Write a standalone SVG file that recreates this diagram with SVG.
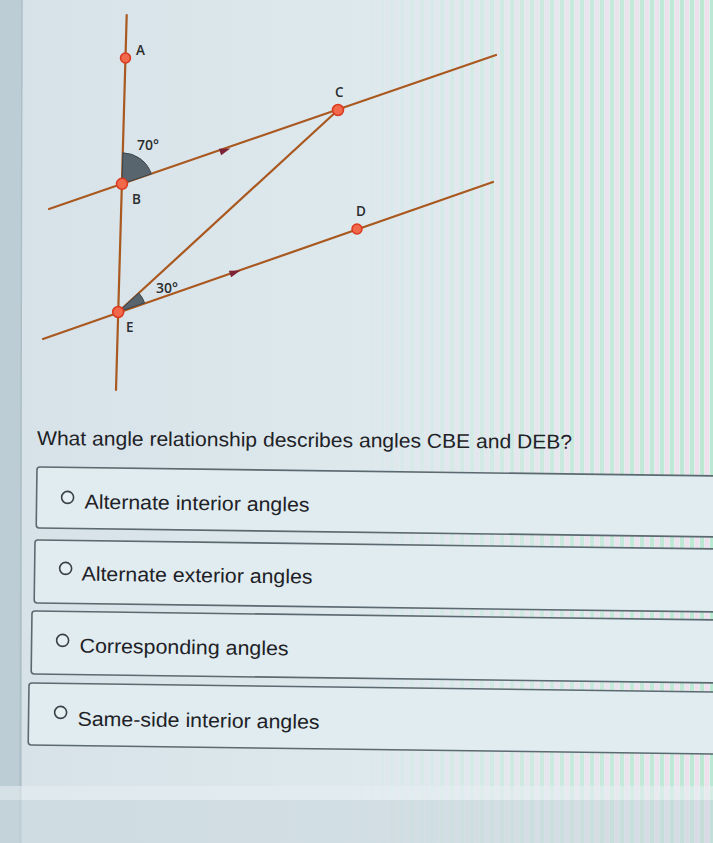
<svg xmlns="http://www.w3.org/2000/svg" width="713" height="843" viewBox="0 0 713 843">
  <defs>
    <style>
      .ln { stroke: #a9581f; stroke-width: 2.2; fill: none; stroke-linecap: round; }
      .pt { fill: #f2684a; stroke: #d9391f; stroke-width: 1.5; }
      .wedge { fill: #58656e; stroke: #3a454c; stroke-width: 1; }
      .arr { fill: #7e2236; }
      .lbl { font-family: "Open Sans", "Liberation Sans", sans-serif; font-size: 13.5px; font-weight: 600; fill: #2b2d2f; }
      .deg { font-family: "Open Sans", "Liberation Sans", sans-serif; font-size: 14px; font-weight: 600; fill: #2b2d2f; }
      .q { font-family: "Liberation Sans", Arial, sans-serif; font-size: 20px; fill: #1e2226; }
      .box { fill: #e0ecf0; stroke: #5b6970; stroke-width: 1.6; }
      .radio { fill: #e6eff2; stroke: #3a4248; stroke-width: 1.6; }
    </style>
    <linearGradient id="bg" x1="0" y1="0" x2="1" y2="0">
      <stop offset="0" stop-color="#d6e2e8"/>
      <stop offset="0.6" stop-color="#dfeaee"/>
      <stop offset="1" stop-color="#e2efee"/>
    </linearGradient>
    <pattern id="stripes" width="10" height="10" patternUnits="userSpaceOnUse">
      <rect x="0" y="0" width="4" height="10" fill="#b6e6cf"/>
      <rect x="5" y="0" width="4" height="10" fill="#f1dcec"/>
    </pattern>
    <linearGradient id="fade" x1="0" y1="0" x2="1" y2="0">
      <stop offset="0" stop-color="#fff" stop-opacity="0"/>
      <stop offset="0.5" stop-color="#fff" stop-opacity="0"/>
      <stop offset="1" stop-color="#fff" stop-opacity="0.9"/>
    </linearGradient>
    <mask id="m">
      <rect x="0" y="0" width="713" height="843" fill="url(#fade)"/>
    </mask>
  </defs>

  <!-- background -->
  <rect x="0" y="0" width="713" height="843" fill="url(#bg)"/>
  <rect x="0" y="0" width="713" height="843" fill="url(#stripes)" mask="url(#m)"/>
  <rect x="0" y="0" width="22" height="843" fill="#bccdd5"/>
  <line x1="22" y1="0" x2="20" y2="843" stroke="#aebfc8" stroke-width="1.5"/>
  <rect x="0" y="786" width="713" height="14" fill="#e6eff2" opacity="0.6"/>
  <rect x="0" y="800" width="713" height="43" fill="#c9d7de" opacity="0.6"/>

  <!-- connectors / lines -->
  <g id="connectors">
    <line class="ln" x1="126.7" y1="15" x2="116" y2="390"/>
    <line class="ln" x1="49" y1="209" x2="496" y2="55"/>
    <line class="ln" x1="43" y1="339" x2="493" y2="182"/>
    <line class="ln" x1="118.2" y1="312" x2="338" y2="110"/>
    <polygon class="arr" points="0,-3.5 11,0 0,3.5" transform="translate(220,152) rotate(-19)"/>
    <polygon class="arr" points="0,-3.5 11,0 0,3.5" transform="translate(230,274) rotate(-19.2)"/>
  </g>

  <!-- angle marks -->
  <g id="angle-70">
    <path class="wedge" d="M122,183.8 L122.9,152.8 A31,31 0 0 1 151.3,173.8 Z"/>
    <text class="deg" x="137" y="150">70°</text>
  </g>
  <g id="angle-30">
    <path class="wedge" d="M118.2,312 L138.8,293 A28,28 0 0 1 144.6,302.8 Z"/>
    <text class="deg" x="156" y="293">30°</text>
  </g>

  <!-- points -->
  <g id="node-A">
    <circle class="pt" cx="125.5" cy="58" r="5"/>
    <text class="lbl" x="136" y="55">A</text>
  </g>
  <g id="node-B">
    <circle class="pt" cx="122" cy="183.8" r="5.5"/>
    <text class="lbl" x="132" y="204">B</text>
  </g>
  <g id="node-C">
    <circle class="pt" cx="338" cy="110" r="5.5"/>
    <text class="lbl" x="335" y="97">C</text>
  </g>
  <g id="node-D">
    <circle class="pt" cx="357" cy="229" r="5"/>
    <text class="lbl" x="356" y="216">D</text>
  </g>
  <g id="node-E">
    <circle class="pt" cx="118.2" cy="312" r="5.5"/>
    <text class="lbl" x="126" y="332">E</text>
  </g>

  <!-- question -->
  <g id="question" transform="rotate(0.4 37 445)">
    <text class="q" x="37" y="445" textLength="535" lengthAdjust="spacingAndGlyphs">What angle relationship describes angles CBE and DEB?</text>
  </g>

  <!-- options -->
  <g id="option-1" transform="rotate(0.75 37 467)">
    <rect class="box" x="37" y="467" width="700" height="61" rx="3"/>
    <circle class="radio" cx="68" cy="497" r="6"/>
    <text class="q" x="85" y="508" textLength="225" lengthAdjust="spacingAndGlyphs">Alternate interior angles</text>
  </g>
  <g id="option-2" transform="rotate(0.75 35 540)">
    <rect class="box" x="35" y="540" width="702" height="63" rx="3"/>
    <circle class="radio" cx="66" cy="568" r="6"/>
    <text class="q" x="82" y="580" textLength="231" lengthAdjust="spacingAndGlyphs">Alternate exterior angles</text>
  </g>
  <g id="option-3" transform="rotate(0.75 32 611)">
    <rect class="box" x="32" y="611" width="705" height="63" rx="3"/>
    <circle class="radio" cx="63" cy="640" r="6"/>
    <text class="q" x="80" y="652" textLength="209" lengthAdjust="spacingAndGlyphs">Corresponding angles</text>
  </g>
  <g id="option-4" transform="rotate(0.75 29 683)">
    <rect class="box" x="29" y="683" width="708" height="62" rx="3"/>
    <circle class="radio" cx="61" cy="712" r="6"/>
    <text class="q" x="78" y="725" textLength="242" lengthAdjust="spacingAndGlyphs">Same-side interior angles</text>
  </g>
</svg>
